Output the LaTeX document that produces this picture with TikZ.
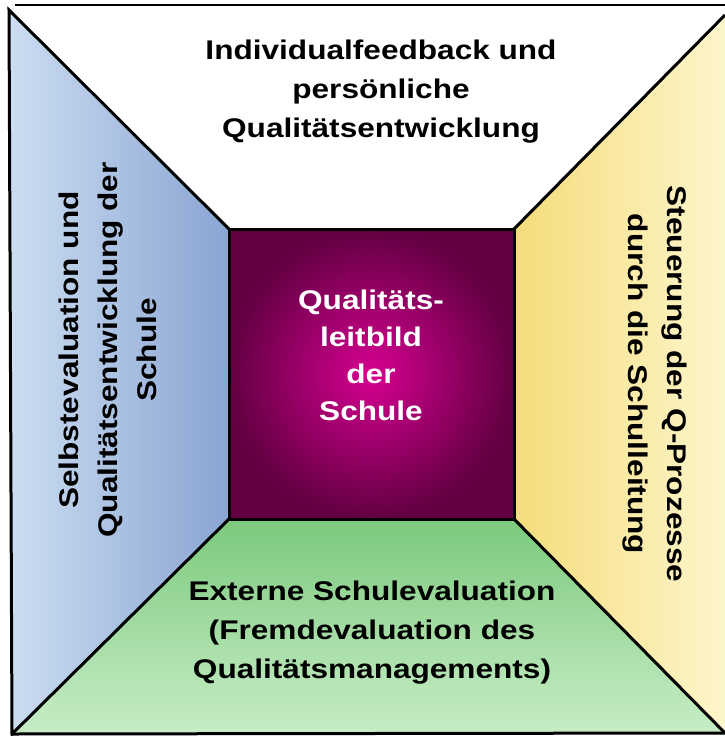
\documentclass[tikz,border=0pt]{standalone}
\usepackage{fontspec}
\newfontfamily\panelfont[FakeStretch=1.17]{Liberation Sans}
\usepackage{tikz}

\definecolor{selbstdark}{RGB}{138,165,211}
\definecolor{selbstlight}{RGB}{204,221,241}
\definecolor{externdark}{RGB}{124,201,124}
\definecolor{externlight}{RGB}{199,237,199}
\definecolor{steuerdark}{RGB}{245,220,122}
\definecolor{steuerlight}{RGB}{253,246,204}
\definecolor{leitinner}{RGB}{214,0,144}
\definecolor{leitouter}{RGB}{98,0,66}

\begin{document}
\begin{tikzpicture}[x=1pt,y=-1pt,
  paneltext/.style={font={\panelfont\bfseries\fontsize{27}{39}\selectfont},align=center},
  outline/.style={line width=3pt,line join=miter}]
  \useasboundingbox (0,0) rectangle (725,736);

  % Corners
  \coordinate (topa) at (15,5);
  \coordinate (topb) at (725,5);
  \coordinate (otl) at (9,10);
  \coordinate (otr) at (725,15);
  \coordinate (obl) at (12,734);
  \coordinate (obr) at (725,733);
  \coordinate (itl) at (229,229);
  \coordinate (itr) at (514,229);
  \coordinate (ibl) at (229,519);
  \coordinate (ibr) at (514,519);

  % Left
  \shade[left color=selbstlight,right color=selbstdark]
    (otl) -- (itl) -- (ibl) -- (obl) -- cycle;

  % Bottom
  \shade[top color=externdark,bottom color=externlight]
    (obl) -- (ibl) -- (ibr) -- (obr) -- cycle;

  % Right
  \shade[left color=steuerdark,right color=steuerlight]
    (itr) -- (otr) -- (obr) -- (ibr) -- cycle;

  % Middle
  \shade[inner color=leitinner,outer color=leitouter]
    (itl) rectangle (ibr);

  % Lines
  \draw[line width=2pt] (topa) -- (topb);
  \draw[outline] (itl) -- (otl) -- (obl) -- (ibl);
  \draw[outline] (obl) -- (obr);
  \draw[outline] (itr) -- (otr);
  \draw[outline] (ibr) -- (obr);
  \draw[outline] (itl) rectangle (ibr);

  % Texts
  \node[paneltext] (feedback) at (381,92)
    {Individualfeedback und\\persönliche\\Qualitätsentwicklung};
  \node[paneltext,rotate=90] (selbst) at (108,350)
    {Selbstevaluation und\\Qualitätsentwicklung der\\Schule};
  \node[paneltext,rotate=-90] (steuerung) at (655,384)
    {Steuerung der Q-Prozesse\\durch die Schulleitung};
  \node[paneltext] (extern) at (372,633)
    {Externe Schulevaluation\\(Fremdevaluation des\\Qualitätsmanagements)};
  \node[paneltext,text=white,font={\panelfont\bfseries\fontsize{27}{37}\selectfont}] (leitbild) at (371,355)
    {Qualitäts-\\leitbild\\der\\Schule};
\end{tikzpicture}
\end{document}
